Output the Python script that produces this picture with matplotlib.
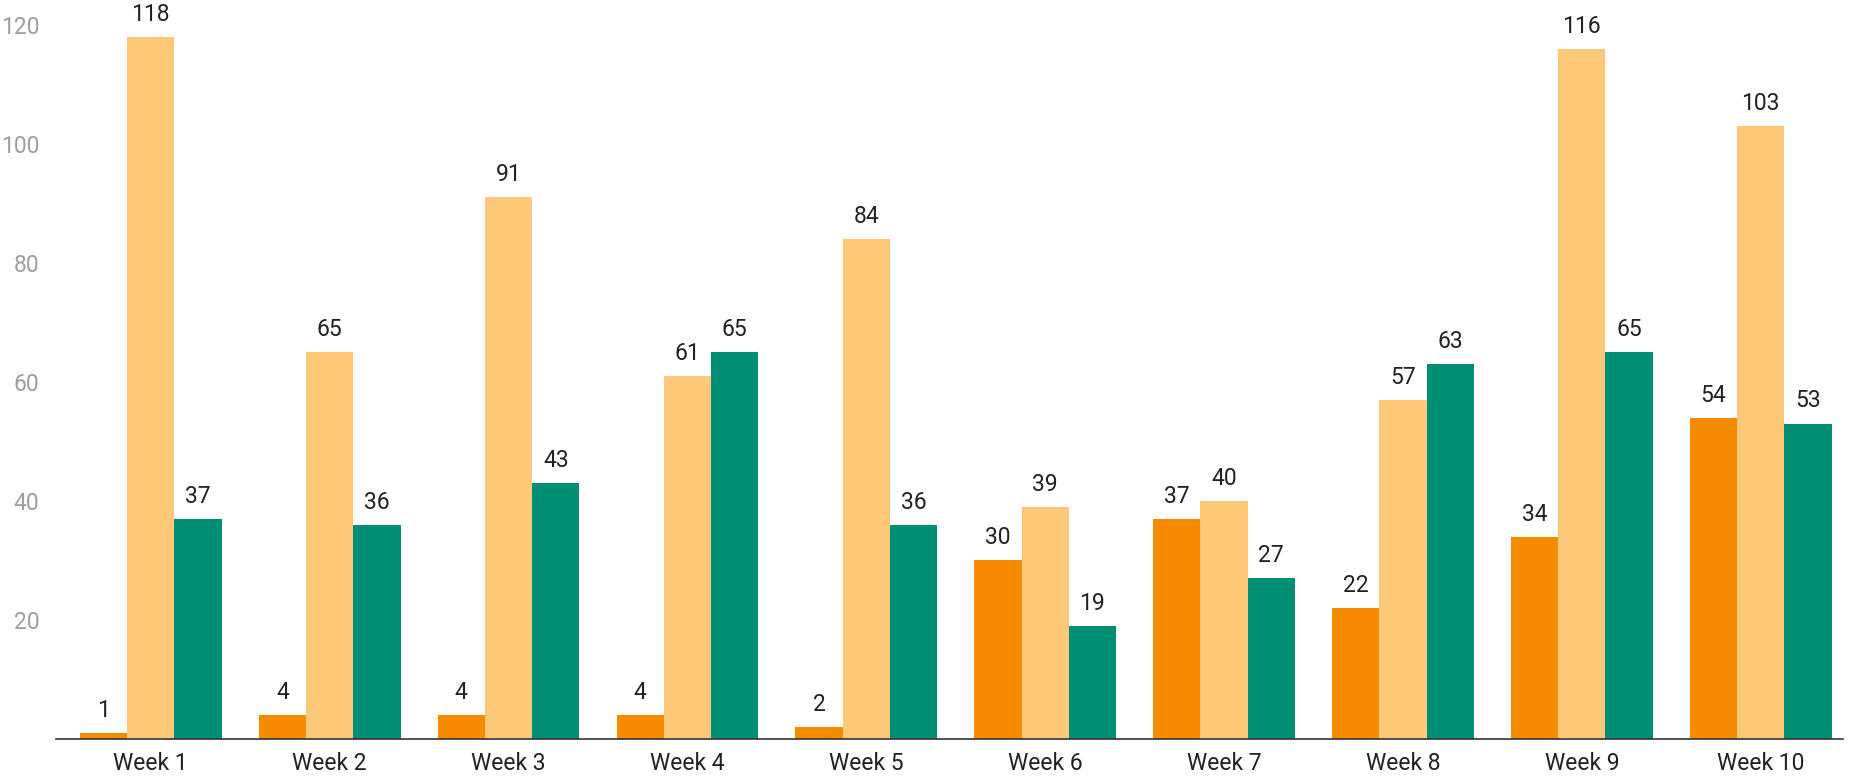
import matplotlib.pyplot as plt
import numpy as np

plt.rcParams['font.family'] = ['Roboto', 'DejaVu Sans']

weeks = ['Week 1', 'Week 2', 'Week 3', 'Week 4', 'Week 5',
         'Week 6', 'Week 7', 'Week 8', 'Week 9', 'Week 10']
series_a = [1, 4, 4, 4, 2, 30, 37, 22, 34, 54]
series_b = [118, 65, 91, 61, 84, 39, 40, 57, 116, 103]
series_c = [37, 36, 43, 65, 36, 19, 27, 63, 65, 53]

colors = ['#F68B00', '#FDC877', '#008F74']

fig = plt.figure(figsize=(18.53, 7.78), dpi=100)
ax = fig.add_axes([56 / 1853, 39 / 778, (1843 - 56) / 1853, 738 / 778])

x = np.arange(len(weeks))
w = 0.264
for i, (vals, col) in enumerate(zip([series_a, series_b, series_c], colors)):
    pos = x + (i - 1) * w
    ax.bar(pos, vals, w, color=col, zorder=2)
    for px, v in zip(pos, vals):
        ax.annotate(str(v), (px, v), xytext=(0, 8), textcoords='offset points',
                    ha='center', va='bottom', fontsize=16.5, color='#212121')

ax.set_xlim(-0.53, 9.46)
ax.set_ylim(0, 124)
ax.set_xticks(x)
ax.set_xticklabels(weeks, fontsize=16.5, color='#212121')
ax.set_yticks([20, 40, 60, 80, 100, 120])
ax.tick_params(axis='y', length=0, labelsize=16.5, labelcolor='#9E9E9E', pad=12)
ax.tick_params(axis='x', length=0, pad=9)
for s in ['top', 'right', 'left']:
    ax.spines[s].set_visible(False)
ax.spines['bottom'].set_color('#333333')
ax.spines['bottom'].set_linewidth(1.2)

fig.savefig('out.png', dpi=100)
